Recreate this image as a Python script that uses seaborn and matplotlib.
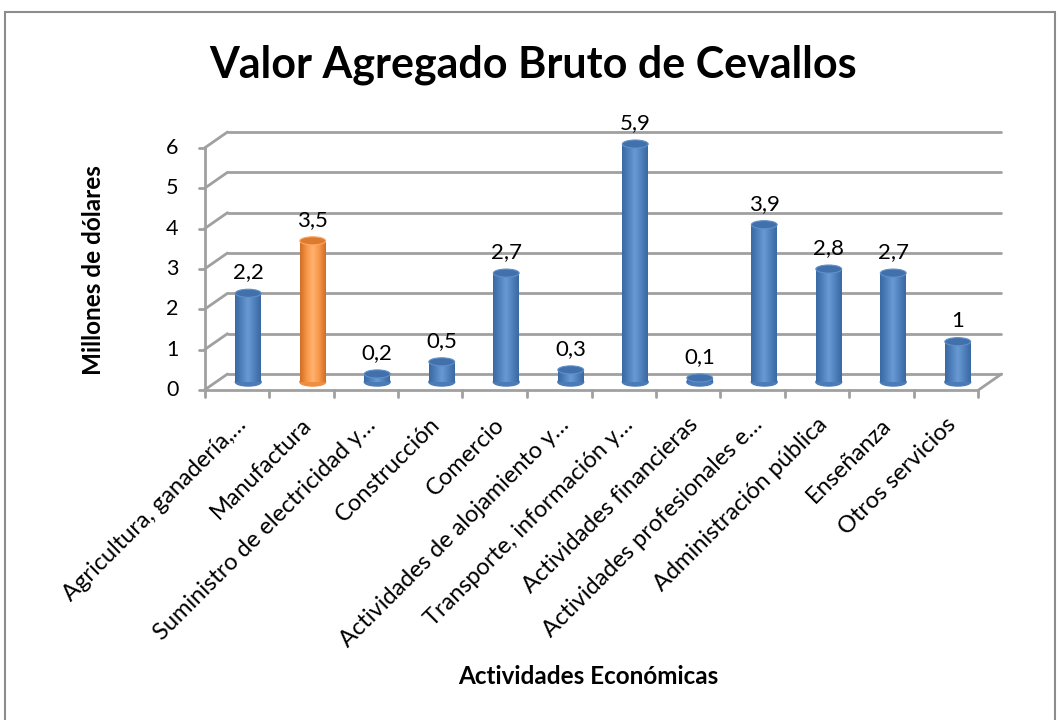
import numpy as np
import matplotlib
matplotlib.use("Agg")
import matplotlib.pyplot as plt
import matplotlib.transforms as mtransforms
from matplotlib.patches import Ellipse, Rectangle
from matplotlib.lines import Line2D
from matplotlib.colors import LinearSegmentedColormap
import seaborn as sns

# Data
categorias = ["Agricultura, ganadería,…", "Manufactura", "Suministro de electricidad y…",
              "Construcción", "Comercio", "Actividades de alojamiento y…",
              "Transporte, información y…", "Actividades financieras",
              "Actividades profesionales e…", "Administración pública",
              "Enseñanza", "Otros servicios"]
valores = [2.2, 3.5, 0.2, 0.5, 2.7, 0.3, 5.9, 0.1, 3.9, 2.8, 2.7, 1.0]
y_ticks = [0, 1, 2, 3, 4, 5, 6]
destacada = "Manufactura"

AZUL = "#4F81BD"
NARANJA = "#F79646"
colores = [NARANJA if c == destacada else AZUL for c in categorias]

sns.set_theme(style="white")
plt.rcParams["font.family"] = ["Lato", "DejaVu Sans"]

fig = plt.figure(figsize=(10.6, 7.2), dpi=100)
W, H = 1060, 720
# axes = middle depth plane of the 3D box
ax = fig.add_axes([216 / W, (H - 382) / H, 774 / W, 242 / H])

sns.barplot(x=categorias, y=valores, hue=categorias, palette=colores, width=0.4,
            saturation=1, legend=False, ax=ax, zorder=3)
ax.set_xlim(-0.5, len(categorias) - 0.5)
ax.set_ylim(0, 6)
ax.axis("off")

dx, dy = 11.5 / 100, 8 / 100
back = ax.transData + mtransforms.ScaledTranslation(dx, dy, fig.dpi_scale_trans)
front = ax.transData + mtransforms.ScaledTranslation(-dx, -dy, fig.dpi_scale_trans)
ident = mtransforms.IdentityTransform()
GRID = "#a0a0a0"
LW = 2.0
x0, x1 = -0.5, len(categorias) - 0.5

# back wall gridlines and left wall diagonals
for t in y_ticks:
    ax.plot([x0, x1], [t, t], transform=back, color=GRID, lw=LW, clip_on=False, zorder=1)
    pf = front.transform((x0, t))
    pb = back.transform((x0, t))
    fig.add_artist(Line2D([pf[0], pb[0]], [pf[1], pb[1]], transform=ident, color=GRID, lw=LW))
    fig.add_artist(Line2D([pf[0] - 6, pf[0]], [pf[1], pf[1]], transform=ident, color=GRID, lw=LW))
    ax.text(x0, t, str(t), transform=front + mtransforms.ScaledTranslation(-0.26, 0, fig.dpi_scale_trans),
            ha="right", va="center", fontsize=15.5, color="black")

# floor front edge, front vertical axis, right diagonal
ax.plot([x0, x1], [0, 0], transform=front, color=GRID, lw=LW, clip_on=False, zorder=1)
ax.plot([x0, x0], [0, 6], transform=front, color=GRID, lw=LW, clip_on=False, zorder=1)
pf = front.transform((x1, 0))
pb = back.transform((x1, 0))
fig.add_artist(Line2D([pf[0], pb[0]], [pf[1], pb[1]], transform=ident, color=GRID, lw=LW))
for b in np.arange(x0, x1 + 0.01, 1.0):
    p = front.transform((b, 0))
    fig.add_artist(Line2D([p[0], p[0]], [p[1], p[1] - 7], transform=ident, color=GRID, lw=LW))

# cylinder shading
bars = list(ax.patches)
def cyl_cmap(base, dark, light):
    return LinearSegmentedColormap.from_list("c", [dark, base, light, base, dark])

cmaps = {AZUL: cyl_cmap(AZUL, "#3a68a2", "#6a9ad4"), NARANJA: cyl_cmap(NARANJA, "#d06e26", "#ffb270")}
grad = np.linspace(0, 1, 64).reshape(1, -1)
for bar, col, val in zip(bars, colores, valores):
    xL = bar.get_x()
    w = bar.get_width()
    xc = xL + w / 2
    bar.set_alpha(0)
    bottom = Ellipse((xc, 0), w, 0.2, color=cmaps[col](0.2), zorder=2, clip_on=False)
    ax.add_patch(bottom)
    im = ax.imshow(grad, cmap=cmaps[col], extent=[xL, xL + w, 0, val], aspect="auto",
                   zorder=3, interpolation="bicubic")
    im.set_clip_path(Rectangle((xL, 0), w, val, transform=ax.transData))
    top = Ellipse((xc, val), w, 0.2, facecolor=cmaps[col](0.08), edgecolor=cmaps[col](0.6),
                  lw=0.8, zorder=4, clip_on=False)
    ax.add_patch(top)
    ax.text(xc, val + 0.37, f"{val:g}".replace(".", ","), ha="center", va="baseline",
            fontsize=16, color="black", zorder=5)
ax.set_xlim(x0, x1)
ax.set_ylim(0, 6)

# category labels
for i, c in enumerate(categorias):
    ax.text(i, 0, c, transform=front + mtransforms.ScaledTranslation(0.11, -0.36, fig.dpi_scale_trans),
            rotation=45, rotation_mode="anchor", ha="right", va="baseline", fontsize=17, color="black")

fig.text(0.503, 0.892, "Valor Agregado Bruto de Cevallos", ha="center", va="baseline",
         fontsize=31, fontweight="bold", color="black")
fig.text(0.088, 0.625, "Millones de dólares", rotation=90, ha="center", va="center",
         fontsize=17.5, fontweight="bold", color="black")
fig.text(0.555, 0.06, "Actividades Económicas", ha="center", va="center",
         fontsize=17.5, fontweight="bold", color="black")

fig.add_artist(Rectangle((5 / W, -0.01), 1050 / W, 1 - 12 / H + 0.01, transform=fig.transFigure,
                         fill=False, edgecolor="#8c8c8c", lw=1.5))

fig.savefig("out.png", dpi=100)
